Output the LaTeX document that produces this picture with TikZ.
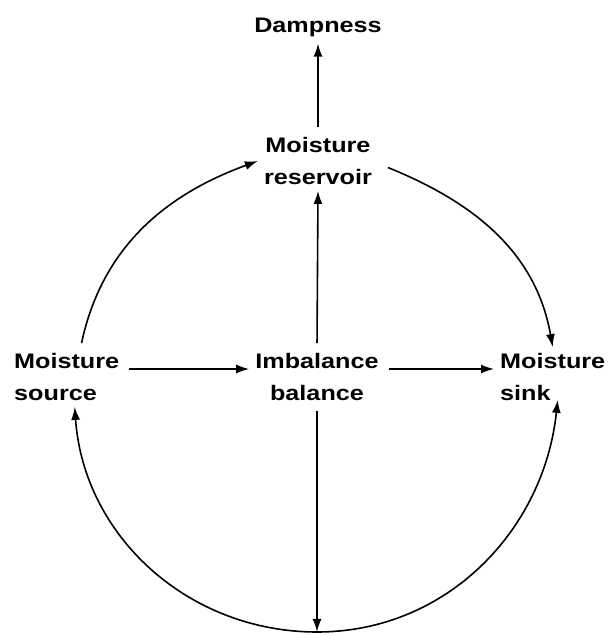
\documentclass[tikz,border=0pt]{standalone}
\usepackage{fontspec}
\setmainfont{Liberation Sans}[FakeStretch=1.2]
\usetikzlibrary{arrows.meta}
\tikzset{
    label/.style = {font=\bfseries\fontsize{21}{32}\selectfont, inner sep=6pt, align=center},
    arr/.style = {line width=1.6pt, -{Latex[length=13pt,width=9pt]}},
    flow/.style = {arr, shorten <=4pt}
}
\begin{document}
\begin{tikzpicture}[x=1pt, y=1pt]
            \useasboundingbox (0,0) rectangle (609,635);
            \node[label, anchor=base] (damp) at (318,602) {Dampness};
            \node[label] (resv) at (318,474) {Moisture\\reservoir};
            \node[label, align=left, anchor=west] (src) at (8,258) {Moisture\\source};
            \node[label] (imb) at (317,258) {Imbalance\\balance};
            \node[label, align=left, anchor=west] (sink) at (494,258) {Moisture\\sink};
            \coordinate (low) at (317,3);
            \draw[flow] (resv.north) -- (damp.south);
            \draw[flow] (imb.north) -- (resv.south);
            \draw[flow] (imb.south) -- (low);
            \draw[flow] ([yshift=8pt]src.east) -- ([yshift=8pt]imb.west);
            \draw[flow] ([yshift=8pt]imb.east) -- ([yshift=8pt]sink.west);
            \draw[flow] ([xshift=14pt]src.north) to[out=78, in=200] (resv.west);
            \draw[flow] ([xshift=6pt,yshift=-5pt]resv.east) to[out=-22, in=100] (sink.north);
            \draw[arr] (low) to[out=180, in=-86] ([xshift=8pt]src.south);
            \draw[arr] (low) to[out=0, in=-96] ([xshift=5pt,yshift=7pt]sink.south);
        \end{tikzpicture}
\end{document}
